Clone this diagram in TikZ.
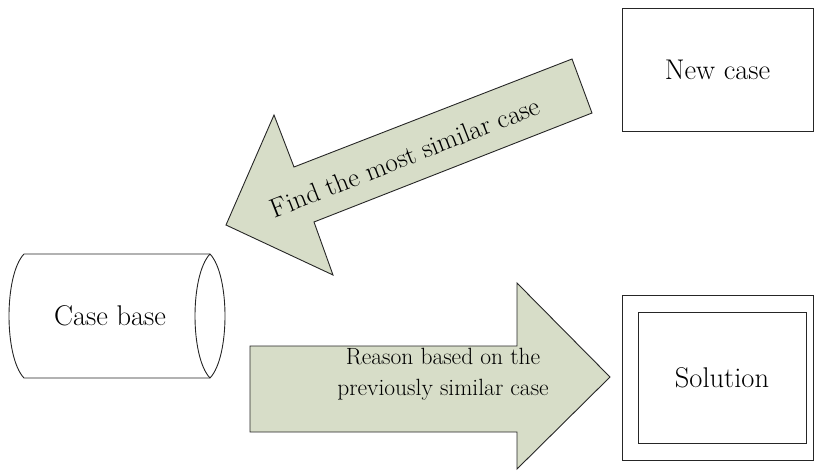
\documentclass[tikz,border=0pt]{standalone}
\begin{document}
\begin{tikzpicture}[x=1pt,y=-1pt,
  outline/.style={draw=black!85,line width=0.9pt},
  blockarrow/.style={outline,fill=arrowfill,line join=miter},
  label/.style={font=\fontsize{28.5}{32}\selectfont,inner sep=0pt},
  frame/.style={outline,rectangle,inner sep=0pt}]
\definecolor{arrowfill}{RGB}{215,221,200}
\useasboundingbox (0,0) rectangle (814,472);

% new case box
\node[frame,minimum width=191pt,minimum height=123pt] (newbox) at (717.5,69.5) {};
\node[label] (newcase) at (newbox.center) {New case};

% case base drum
\draw[outline] (24,254) -- (210,254)
  .. controls (230,275) and (230,357) .. (210,378) -- (24,378)
  .. controls (4,357) and (4,275) .. (24,254);
\draw[outline] (210,254) .. controls (190,275) and (190,357) .. (210,378);
\node[label] (casebase) at (110,316) {Case base};

% solution: double frame
\node[frame,minimum width=191pt,minimum height=165pt] (solouter) at (717.5,377.5) {};
\node[frame,minimum width=168pt,minimum height=131pt] (solinner) at (722,377.5) {};
\node[label] (solution) at (solinner.center) {Solution};

% retrieval arrow, pointing down-left
\draw[blockarrow] (226,225) -- (274,115) -- (294,167) -- (572,59)
  -- (592,113) -- (314,222) -- (333,275) -- cycle;
\node[label,font=\fontsize{27}{30}\selectfont,rotate=21.5] (find) at (405,157)
  {Find the most similar case};

% reasoning arrow, pointing right
\draw[blockarrow] (250,346) -- (517,346) -- (517,283) -- (610,377)
  -- (517,469) -- (517,432) -- (250,432) -- cycle;
\node[label,font=\fontsize{23.5}{31}\selectfont,align=center] (reason) at (443,374)
  {Reason based on the\\previously similar case};
\end{tikzpicture}
\end{document}
